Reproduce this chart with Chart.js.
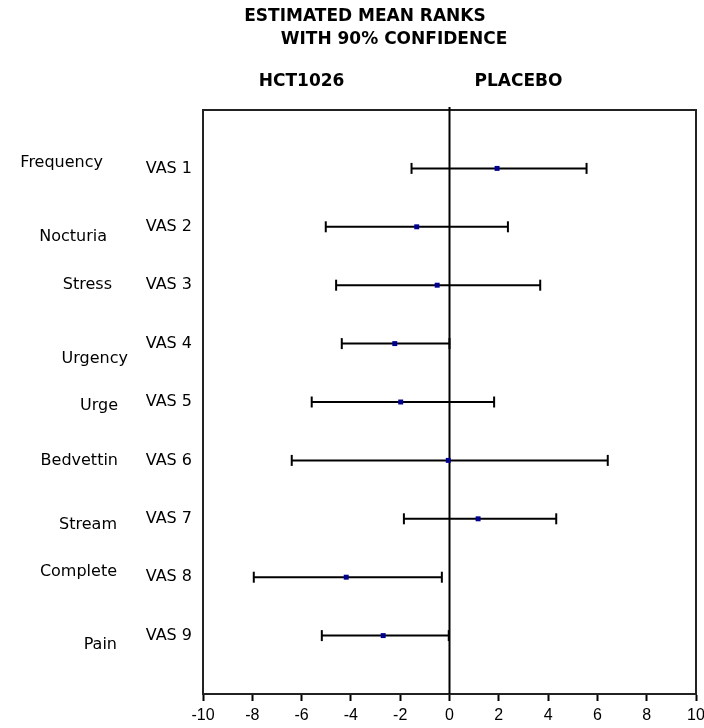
<!DOCTYPE html>
<html>
<head>
<meta charset="utf-8">
<script src="https://cdn.jsdelivr.net/npm/chart.js@4.4.1/dist/chart.umd.min.js"></script>
<style>
  html, body { margin: 0; padding: 0; background: #fff; }
</style>
</head>
<body>
<canvas id="myChart" width="704" height="728"></canvas>
<script>
// one row per VAS item, top to bottom
var rowLabels = ['VAS 1', 'VAS 2', 'VAS 3', 'VAS 4', 'VAS 5', 'VAS 6', 'VAS 7', 'VAS 8', 'VAS 9'];
var topics = ['Frequency', 'Nocturia', 'Stress', 'Urgency', 'Urge', 'Bedvettin', 'Stream', 'Complete', 'Pain'];

// estimated mean rank difference and 90% confidence limits
var means = [1.93, -1.33, -0.5, -2.22, -1.98, -0.05, 1.16, -4.19, -2.69];
var lower = [-1.54, -5.02, -4.6, -4.37, -5.59, -6.4, -1.85, -7.94, -5.18];
var upper = [5.56, 2.37, 3.68, 0, 1.81, 6.42, 4.33, -0.31, -0.03];

var xTicks = [-10, -8, -6, -4, -2, 0, 2, 4, 6, 8, 10];

// where the topic names sit next to their rows (layout only)
var topicShift = [-0.09, 0.17, 0, 0.26, 0.07, 0, 0.1, -0.09, 0.15];
var topicRight = [103, 107, 112, 128, 118, 118, 117, 117, 117];

var font = 'DejaVu Sans';

var datasets = rowLabels.map(function (lab, i) {
    return {
        label: lab,
        data: [{ x: lower[i], y: i + 1 }, { x: upper[i], y: i + 1 }],
        showLine: true,
        borderColor: '#000',
        borderWidth: 2,
        pointStyle: 'line',
        rotation: 90,
        pointRadius: 5.5,
        pointBorderWidth: 2,
        pointBorderColor: '#000',
        order: 2
    };
});
datasets.push({
    label: 'mean',
    data: means.map(function (m, i) { return { x: m, y: i + 1 }; }),
    showLine: false,
    pointStyle: 'rect',
    pointRadius: 3.5,
    pointBorderWidth: 0,
    backgroundColor: '#000090',
    borderColor: '#000090',
    order: 1
});

var decorations = {
    id: 'decorations',
    beforeDatasetsDraw: function (chart) {
        var a = chart.chartArea, ctx = chart.ctx;
        var x0 = chart.scales.x.getPixelForValue(0);
        ctx.save();
        ctx.strokeStyle = '#222';
        ctx.lineWidth = 2;
        ctx.strokeRect(a.left, a.top, a.right - a.left, a.bottom - a.top);
        ctx.strokeStyle = '#000';
        ctx.beginPath();
        ctx.moveTo(x0, a.top - 3);
        ctx.lineTo(x0, a.bottom);
        ctx.stroke();
        ctx.restore();
    },
    afterDraw: function (chart) {
        var ctx = chart.ctx, xs = chart.scales.x, ys = chart.scales.y;
        ctx.save();
        ctx.fillStyle = '#000';
        ctx.textBaseline = 'middle';
        ctx.textAlign = 'center';
        ctx.font = 'bold 17px "' + font + '"';
        ctx.fillText('ESTIMATED MEAN RANKS', 365, 17);
        ctx.fillText('WITH 90% CONFIDENCE', 394, 40);
        ctx.fillText('HCT1026', xs.getPixelForValue(-6), 82);
        ctx.fillText('PLACEBO', xs.getPixelForValue(2.8), 82);

        ctx.textAlign = 'right';
        ctx.font = '16px "' + font + '"';
        topics.forEach(function (t, i) {
            ctx.fillText(t, topicRight[i], ys.getPixelForValue(i + 1 + topicShift[i]));
        });
        ctx.restore();
    }
};

var ctx = document.getElementById('myChart').getContext('2d');

var myChart = new Chart(ctx, {
    type: 'scatter',
    data: { datasets: datasets },
    options: {
        responsive: false,
        animation: false,
        devicePixelRatio: 1,
        layout: { padding: { top: 110, right: 8, left: 0, bottom: 0 } },
        plugins: {
            legend: { display: false },
            tooltip: { enabled: false }
        },
        scales: {
            x: {
                type: 'linear',
                min: -10,
                max: 10,
                afterBuildTicks: function (s) {
                    s.ticks = xTicks.map(function (v) { return { value: v }; });
                },
                afterFit: function (s) {
                    s.height = 34;
                    s.paddingLeft = 0;
                    s.paddingRight = 0;
                },
                grid: {
                    drawOnChartArea: false,
                    drawTicks: true,
                    tickLength: 7,
                    tickColor: '#000',
                    tickWidth: 2
                },
                border: { display: true, color: '#000', width: 2 },
                ticks: {
                    color: '#000',
                    padding: 5,
                    font: { family: 'Liberation Sans', size: 16 }
                }
            },
            y: {
                type: 'linear',
                min: 0,
                max: 10,
                reverse: true,
                afterFit: function (s) { s.width = 203; },
                grid: { drawOnChartArea: false, drawTicks: false },
                border: { display: true, color: '#222', width: 2 },
                ticks: {
                    stepSize: 1,
                    autoSkip: false,
                    padding: 11,
                    color: '#000',
                    font: { family: font, size: 16 },
                    callback: function (v) { return rowLabels[v - 1] || ''; }
                }
            }
        }
    },
    plugins: [decorations]
});
</script>
</body>
</html>
